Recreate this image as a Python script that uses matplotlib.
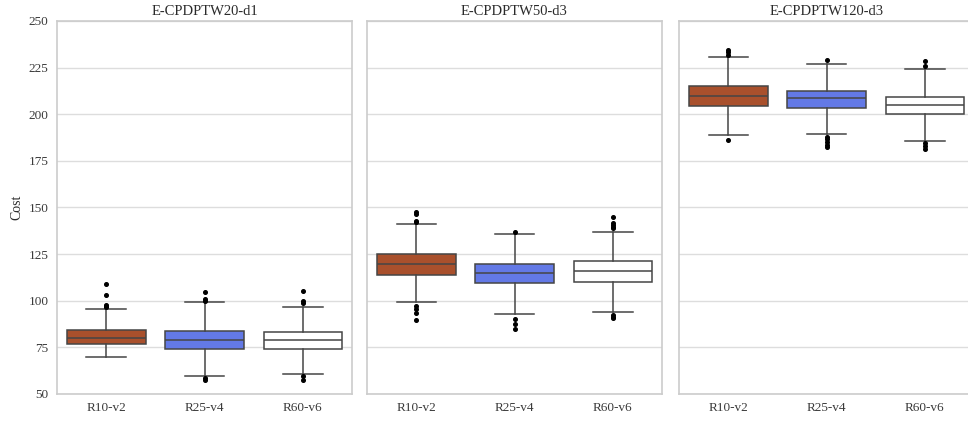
import matplotlib
matplotlib.use("Agg")
import matplotlib.pyplot as plt

plt.rcParams['font.family'] = ['Liberation Serif', 'DejaVu Serif']

panels = ["E-CPDPTW20-d1", "E-CPDPTW50-d3", "E-CPDPTW120-d3"]
categories = ["R10-v2", "R25-v4", "R60-v6"]
box_colors = ["#A9502C", "#6379E6", "#FFFFFF"]

# box statistics per panel, per category
q1 = [[76.8, 74.2, 74.2], [113.7, 109.4, 110.1], [204.3, 203.1, 199.9]]
med = [[80.0, 79.1, 78.7], [119.6, 114.8, 115.8], [209.7, 208.5, 204.7]]
q3 = [[84.3, 84.0, 83.2], [125.1, 119.8, 121.2], [214.9, 212.7, 209.5]]
whislo = [[70.1, 59.6, 60.7], [99.3, 93.1, 94.2], [188.8, 189.2, 185.8]]
whishi = [[95.5, 99.3, 96.4], [141.2, 135.8, 136.7], [230.6, 227.2, 224.3]]
fliers = [
    [[109.2, 103.2, 97.7, 97.0, 96.4],
     [104.6, 101.0, 99.8, 58.4, 57.7],
     [105.3, 100.0, 99.0, 59.9, 57.5]],
    [[147.8, 146.4, 142.8, 142.1, 97.3, 95.5, 93.4, 89.8],
     [136.9, 90.1, 87.6, 85.1],
     [145.0, 141.5, 140.5, 139.5, 138.9, 92.5, 91.5, 90.6]],
    [[234.7, 233.4, 232.0, 186.1],
     [229.3, 187.9, 186.5, 185.0, 183.7, 182.5],
     [228.4, 225.9, 184.4, 183.0, 181.2]],
]

fig = plt.figure(figsize=(9.68, 4.25), dpi=100)
W, H = 968, 425
lefts = [57, 367, 679]
pw = 295
top_px, bot_px = 21, 394
axes = []
for i in range(3):
    ax = fig.add_axes([lefts[i] / W, 1 - bot_px / H, pw / W, (bot_px - top_px) / H])
    axes.append(ax)

line_col = "#454545"
lw = 1.1
for p, ax in enumerate(axes):
    stats = []
    for c in range(3):
        stats.append(dict(med=med[p][c], q1=q1[p][c], q3=q3[p][c],
                          whislo=whislo[p][c], whishi=whishi[p][c],
                          fliers=fliers[p][c], label=categories[c]))
    bp = ax.bxp(stats, positions=range(3), widths=0.8, patch_artist=True,
                showfliers=True,
                boxprops=dict(edgecolor=line_col, linewidth=lw),
                medianprops=dict(color=line_col, linewidth=lw),
                whiskerprops=dict(color=line_col, linewidth=lw),
                capprops=dict(color=line_col, linewidth=lw),
                flierprops=dict(marker='o', markerfacecolor='black',
                                markeredgecolor='black', markersize=2.6),
                capwidths=0.4)
    for patch, col in zip(bp['boxes'], box_colors):
        patch.set_facecolor(col)
    ax.set_xlim(-0.5, 2.5)
    ax.set_ylim(50, 250)
    ax.set_yticks(range(50, 251, 25))
    ax.set_xticks(range(3))
    ax.set_xticklabels(categories)
    ax.grid(axis='y', color='#dddddd', linewidth=1.0)
    ax.set_axisbelow(True)
    for s in ax.spines.values():
        s.set_color('#cccccc')
        s.set_linewidth(1.2)
    ax.tick_params(axis='both', length=0, labelsize=9.5, colors='#3a3a3a', pad=6)
    ax.set_title(panels[p], fontsize=10.5, color='#2a2a2a', pad=4)
    if p == 0:
        ax.set_ylabel("Cost", fontsize=10, color='#2a2a2a')
    else:
        ax.tick_params(axis='y', labelleft=False)

fig.savefig("out.png", dpi=100)
